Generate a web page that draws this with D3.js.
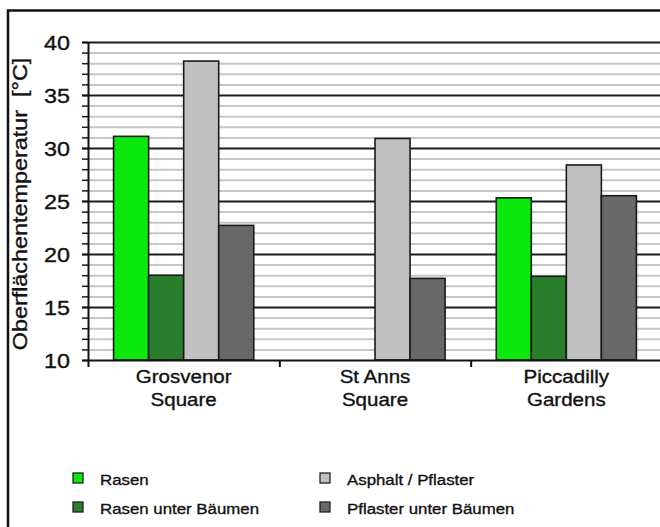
<!DOCTYPE html>
<html>
<head>
<meta charset="utf-8">
<script src="https://cdn.jsdelivr.net/npm/d3@7"></script>
<style>
  html, body { margin: 0; padding: 0; background: #fff; }
  svg { display: block; }
  text { font-family: "Liberation Sans", Arial, sans-serif; fill: #111; stroke: #111; stroke-width: 0.35px; }
</style>
</head>
<body>
<svg id="chart" width="660" height="527"></svg>
<script>
// ---- data ----
const categories = ["Grosvenor Square", "St Anns Square", "Piccadilly Gardens"];
const seriesNames = ["Rasen", "Rasen unter Bäumen", "Asphalt / Pflaster", "Pflaster unter Bäumen"];
const rasen = [31.1, null, 25.3];
const rasenUnterBaeumen = [18.0, null, 17.9];
const asphaltPflaster = [38.2, 30.9, 28.4];
const pflasterUnterBaeumen = [22.7, 17.7, 25.5];
const yMajorTicks = [10, 15, 20, 25, 30, 35, 40];
const yTitle = "Oberflächentemperatur  [°C]";

const seriesValues = [rasen, rasenUnterBaeumen, asphaltPflaster, pflasterUnterBaeumen];
const colors = ["#0be80b", "#2a7d2a", "#c0c0c0", "#686868"];

(function () {
// ---- layout ----
const svg = d3.select("#chart");
const pLeft = 88, pTop = 42, pBottom = 360, pRight = 662;

// frame
svg.append("rect").attr("x", 8).attr("y", 10.5).attr("width", 720).attr("height", 620)
  .attr("fill", "none").attr("stroke", "#111").attr("stroke-width", 2.5);

const x0 = d3.scaleBand().domain(categories).range([pLeft, pRight]).paddingInner(0).paddingOuter(0);
const x1 = d3.scaleBand().domain(seriesNames).range([0, x0.bandwidth()]).paddingInner(0).paddingOuter(0.73);
const y = d3.scaleLinear().domain([10, 40]).range([pBottom, pTop]);

const yMinor = d3.range(11, 40).filter(v => v % 5 !== 0);

// minor grid
svg.append("g").attr("transform", `translate(${pLeft},0)`)
  .call(d3.axisRight(y).tickValues(yMinor).tickSize(pRight - pLeft).tickFormat(""))
  .call(g => g.select(".domain").remove())
  .call(g => g.selectAll("line").attr("stroke", "#c6c6c6").attr("stroke-width", 2));

// major grid
svg.append("g").attr("transform", `translate(${pLeft},0)`)
  .call(d3.axisRight(y).tickValues(yMajorTicks.filter(v => v > 10)).tickSize(pRight - pLeft).tickFormat(""))
  .call(g => g.select(".domain").remove())
  .call(g => g.selectAll("line").attr("stroke", "#1c1c1c").attr("stroke-width", 2));

// bars
const barData = [];
categories.forEach((c, ci) => {
  seriesNames.forEach((s, si) => {
    const v = seriesValues[si][ci];
    if (v != null) barData.push({ c, s, si, v });
  });
});
svg.append("g").selectAll("rect").data(barData).join("rect")
  .attr("x", d => x0(d.c) + x1(d.s))
  .attr("y", d => y(d.v))
  .attr("width", x1.bandwidth())
  .attr("height", d => y(10) - y(d.v))
  .attr("fill", d => colors[d.si])
  .attr("stroke", "#1a1a1a").attr("stroke-width", 1.6);

// y minor ticks
svg.append("g").attr("transform", `translate(${pLeft},0)`)
  .call(d3.axisLeft(y).tickValues(d3.range(10, 41)).tickSize(6).tickFormat(""))
  .call(g => g.select(".domain").remove())
  .call(g => g.selectAll("line").attr("stroke", "#1a1a1a").attr("stroke-width", 1.5));

// y axis with labels
svg.append("g").attr("transform", `translate(${pLeft},0)`)
  .call(d3.axisLeft(y).tickValues(yMajorTicks).tickSize(6).tickSizeOuter(0))
  .call(g => g.select(".domain").attr("stroke", "#111").attr("stroke-width", 2))
  .call(g => g.selectAll("line").attr("stroke", "#111").attr("stroke-width", 2))
  .call(g => g.selectAll("text")
    .attr("x", 0).attr("dy", "0.36em")
    .attr("transform", `translate(-18,0) scale(1.14,1)`)
    .attr("text-anchor", "end")
    .style("font-size", "20.5px")
    .style("font-family", "'Liberation Sans', Arial, sans-serif")
    .attr("fill", "#111"));

// x axis
const xTicks = [pLeft, pLeft + x0.step(), pLeft + 2 * x0.step()];
svg.append("g").attr("transform", `translate(0,${pBottom})`)
  .call(d3.axisBottom(d3.scaleLinear().domain([pLeft, pRight]).range([pLeft, pRight]))
    .tickValues(xTicks).tickSize(7).tickSizeOuter(0).tickFormat(""))
  .call(g => g.select(".domain").attr("stroke", "#111").attr("stroke-width", 2))
  .call(g => g.selectAll("line").attr("stroke", "#111").attr("stroke-width", 2));

// category labels
categories.forEach(c => {
  const i = c.lastIndexOf(" ");
  const lines = [c.slice(0, i), c.slice(i + 1)];
  const cx = x0(c) + x0.bandwidth() / 2;
  lines.forEach((ln, li) => {
    svg.append("text")
      .attr("transform", `translate(${cx},${383 + li * 23}) scale(1.14,1)`)
      .attr("text-anchor", "middle")
      .style("font-size", "18px")
      .text(ln);
  });
});

// y title
svg.append("text")
  .attr("transform", `translate(27,204) rotate(-90) scale(1.2,1)`)
  .attr("text-anchor", "middle")
  .style("font-size", "19.5px")
  .style("white-space", "pre")
  .text(yTitle);

// legend
const legendPos = [
  { x: 73, y: 473 }, { x: 73, y: 502 }, { x: 320, y: 473 }, { x: 320, y: 502 }
];
seriesNames.forEach((s, i) => {
  const p = legendPos[i];
  svg.append("rect").attr("x", p.x).attr("y", p.y).attr("width", 10).attr("height", 10)
    .attr("fill", colors[i]).attr("stroke", "#222").attr("stroke-width", 1.3);
  svg.append("text")
    .attr("transform", `translate(${p.x + 27},${p.y + 12}) scale(1.1,1)`)
    .style("font-size", "15.3px")
    .text(s);
});
})();
</script>
</body>
</html>
